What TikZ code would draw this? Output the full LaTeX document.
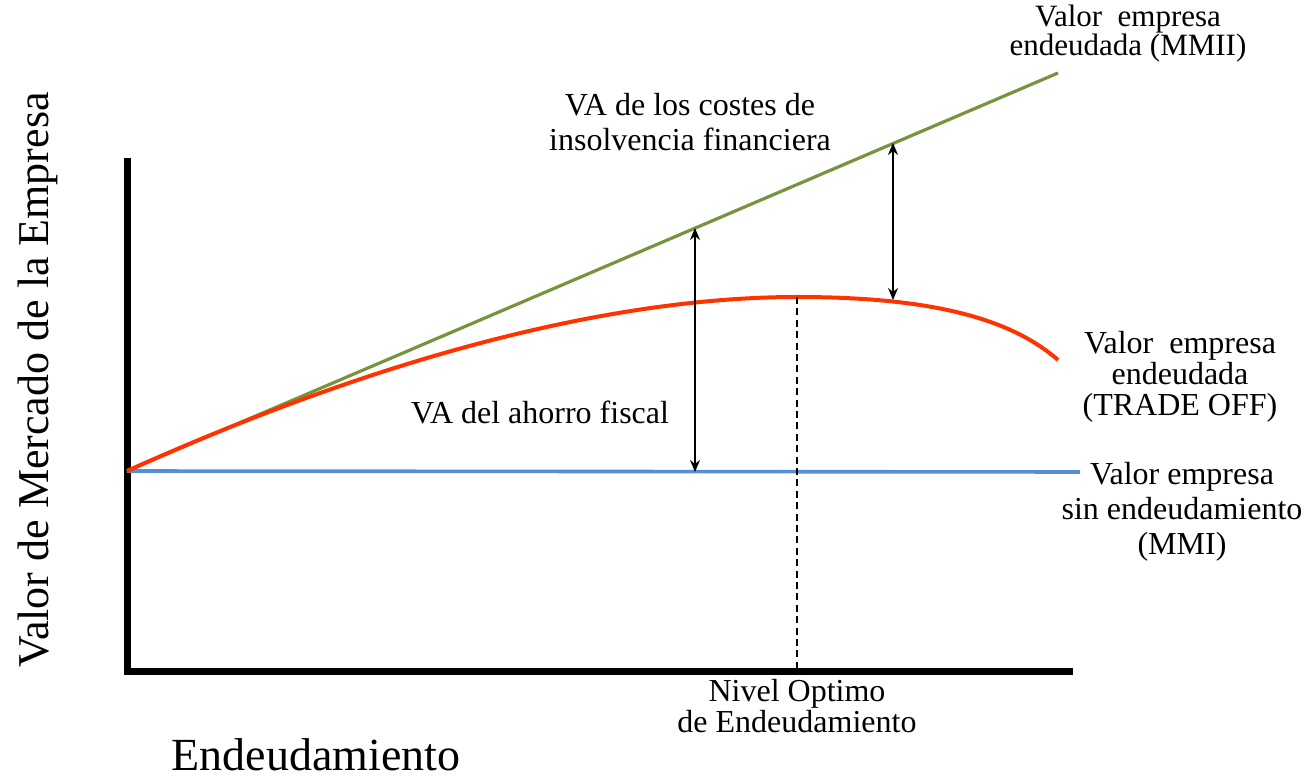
\documentclass[tikz,border=0pt]{standalone}
\usepackage{fontspec}
\setmainfont{Liberation Serif}
\usetikzlibrary{arrows.meta}

\definecolor{mmiigreen}{RGB}{119,147,60}
\definecolor{mmiblue}{RGB}{85,142,213}
\definecolor{tradered}{RGB}{255,51,0}

\begin{document}
\begin{tikzpicture}[
                    x=0.5pt, y=-0.5pt,
                    semithick,
                    lbl/.style={align=center, font=\fontsize{16}{17.5}\selectfont},
                    axis/.style={line width=3.5pt},
                    gap/.style={{Stealth[length=6pt,width=5pt]}-{Stealth[length=6pt,width=5pt]}, line width=0.7pt}
                ]
                \useasboundingbox (0,0) rectangle (1308,780);

                % ejes
                \coordinate (top) at (127,158) ;
                \coordinate (origin) at (127,672) ;
                \coordinate (right) at (1073,672) ;
                \draw[axis] (top) -- (origin) -- (right) ;

                % rectas y curva
                \coordinate (start) at (127,471) ;
                \coordinate (mmiend) at (1080,472) ;
                \coordinate (mmiiend) at (1058,73) ;
                \coordinate (peak) at (797,297) ;
                \coordinate (tradeend) at (1058,360) ;
                \draw[mmiblue, line width=1.8pt] (start) -- (mmiend) ;
                \draw[mmiigreen, line width=1.6pt] (start) -- (mmiiend) ;
                \draw[tradered, line width=2pt] (start)
                    .. controls (430,335) and (650,297) .. (peak)
                    .. controls (930,297) and (1010,318) .. (tradeend) ;

                % flechas
                \coordinate (a1) at (695,228) ;
                \coordinate (b1) at (695,472) ;
                \coordinate (a2) at (893,143) ;
                \coordinate (b2) at (893,300) ;
                \draw[gap] (a1) -- (b1) ;
                \draw[gap] (a2) -- (b2) ;

                \coordinate (opt) at (797,672) ;
                \draw[line width=0.7pt, dash pattern=on 3.5pt off 2.2pt] (peak) -- (opt) ;

                % textos
                \node[lbl, font=\fontsize{15.5}{14.5}\selectfont, inner sep=1pt] (mmii) at (1128,34) {Valor\ \ empresa\\endeudada (MMII)} ;
                \node[lbl] (costes) at (690,122) {VA de los costes de\\insolvencia financiera} ;
                \node[lbl] (ahorro) at (540,412) {VA del ahorro fiscal} ;
                \node[lbl, font=\fontsize{16}{15.5}\selectfont] (trade) at (1180,377) {Valor\ \ empresa\\endeudada\\(TRADE OFF)} ;
                \node[lbl] (mmi) at (1182,512) {Valor empresa\\sin endeudamiento\\(MMI)} ;
                \node[lbl, font=\fontsize{16}{14}\selectfont] (nivel) at (797,706) {Nivel Optimo\\de Endeudamiento} ;
                \node[font=\fontsize{23}{27}\selectfont, inner sep=1pt] (xlabel) at (316,755) {Endeudamiento} ;
                \node[font=\fontsize{22}{26}\selectfont, rotate=90] (ylabel) at (38,380) {Valor de Mercado de la Empresa} ;
            \end{tikzpicture}
\end{document}
